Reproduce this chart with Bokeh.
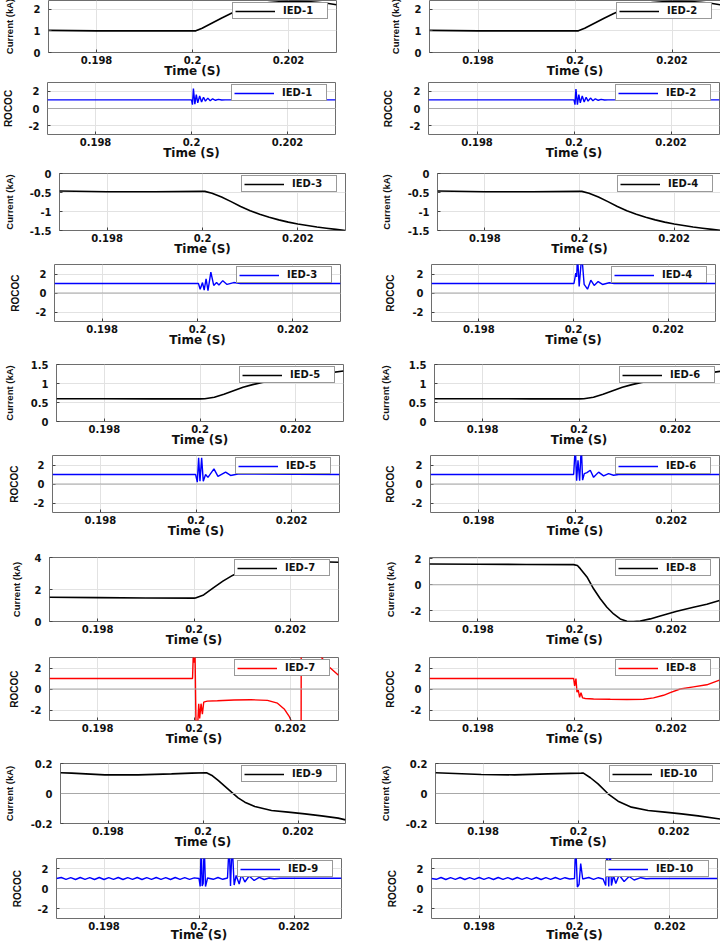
from bokeh.plotting import figure
from bokeh.layouts import column, row
from bokeh.models import Range1d, FixedTicker, Span, Legend, LegendItem
from bokeh.embed import file_html
from bokeh.resources import INLINE

# ---------------- data ----------------
x_ticks = [0.198, 0.2, 0.202]
x_tick_labels = ["0.198", "0.2", "0.202"]

# Currents (kA)
t_cur1 = [0.1970, 0.1980, 0.1990, 0.2000, 0.20007, 0.2002, 0.2004, 0.2006, 0.2008, 0.2010,
          0.2012, 0.2014, 0.2016, 0.2018, 0.2020, 0.2022, 0.2024, 0.2026, 0.2028, 0.2030]
i_cur1 = [1.02, 1.00, 1.00, 1.00, 1.00, 1.12, 1.35, 1.58, 1.80, 2.00,
          2.15, 2.25, 2.31, 2.34, 2.36, 2.36, 2.35, 2.32, 2.27, 2.20]
t_cur2 = [0.1970, 0.1980, 0.1990, 0.2000, 0.20007, 0.2002, 0.2004, 0.2006, 0.2008, 0.2010,
          0.2012, 0.2014, 0.2016, 0.2018, 0.2020, 0.2022, 0.2024, 0.2026, 0.2028, 0.2030]
i_cur2 = [1.02, 1.00, 1.00, 1.00, 1.00, 1.12, 1.35, 1.58, 1.80, 2.00,
          2.15, 2.25, 2.31, 2.34, 2.36, 2.36, 2.35, 2.32, 2.27, 2.20]
t_cur3 = [0.1970, 0.1980, 0.1990, 0.2000, 0.20005, 0.2002, 0.2004, 0.2006, 0.2008, 0.2010,
          0.2012, 0.2014, 0.2016, 0.2018, 0.2020, 0.2022, 0.2024, 0.2026, 0.2028, 0.2030]
i_cur3 = [-0.46, -0.48, -0.48, -0.47, -0.47, -0.52, -0.62, -0.74, -0.87, -0.98,
          -1.07, -1.15, -1.22, -1.28, -1.33, -1.37, -1.41, -1.44, -1.47, -1.50]
t_cur4 = [0.1970, 0.1980, 0.1990, 0.2000, 0.20005, 0.2002, 0.2004, 0.2006, 0.2008, 0.2010,
          0.2012, 0.2014, 0.2016, 0.2018, 0.2020, 0.2022, 0.2024, 0.2026, 0.2028, 0.2030]
i_cur4 = [-0.46, -0.48, -0.48, -0.47, -0.47, -0.52, -0.62, -0.74, -0.87, -0.98,
          -1.07, -1.15, -1.22, -1.28, -1.33, -1.37, -1.41, -1.44, -1.47, -1.50]
t_cur5 = [0.1970, 0.1980, 0.1990, 0.2000, 0.2001, 0.2003, 0.2005, 0.2007, 0.2009, 0.2011,
          0.2013, 0.2015, 0.2017, 0.2019, 0.2021, 0.2023, 0.2025, 0.2027, 0.2030]
i_cur5 = [0.60, 0.60, 0.595, 0.595, 0.60, 0.64, 0.72, 0.81, 0.90, 0.97,
          1.03, 1.07, 1.10, 1.14, 1.18, 1.22, 1.25, 1.28, 1.33]
t_cur6 = [0.1970, 0.1980, 0.1990, 0.2000, 0.2001, 0.2003, 0.2005, 0.2007, 0.2009, 0.2011,
          0.2013, 0.2015, 0.2017, 0.2019, 0.2021, 0.2023, 0.2025, 0.2027, 0.2030]
i_cur6 = [0.60, 0.60, 0.595, 0.595, 0.60, 0.64, 0.72, 0.81, 0.90, 0.97,
          1.03, 1.07, 1.10, 1.14, 1.18, 1.22, 1.25, 1.28, 1.33]
t_cur7 = [0.1970, 0.1980, 0.1990, 0.2000, 0.20003, 0.2002, 0.2004, 0.2006, 0.2008, 0.2010,
          0.2012, 0.2014, 0.2016, 0.2018, 0.2020, 0.2024, 0.2028, 0.2030]
i_cur7 = [1.52, 1.49, 1.47, 1.46, 1.47, 1.66, 2.10, 2.52, 2.88, 3.18,
          3.40, 3.55, 3.64, 3.70, 3.73, 3.76, 3.72, 3.70]
t_cur8 = [0.1970, 0.1980, 0.1990, 0.19998, 0.20006, 0.20012, 0.200258, 0.200395, 0.200533, 0.200671,
          0.200809, 0.200946, 0.201084, 0.201222, 0.20136, 0.201566, 0.201773, 0.202117, 0.202461,
          0.202737, 0.2030]
i_cur8 = [1.60, 1.58, 1.56, 1.55, 1.48, 1.24, 0.60, -0.31, -1.08, -1.73,
          -2.25, -2.63, -2.81, -2.84, -2.79, -2.63, -2.40, -2.04, -1.73,
          -1.50, -1.21]
t_cur9 = [0.1970, 0.197232, 0.197933, 0.198635, 0.199337, 0.199758, 0.200074, 0.2002, 0.200319,
          0.2006, 0.20074, 0.200881, 0.201091, 0.201442, 0.201793, 0.202144, 0.202495, 0.202846, 0.2030]
i_cur9 = [0.138, 0.136, 0.124, 0.124, 0.131, 0.136, 0.138, 0.118, 0.087,
          0.009, -0.029, -0.058, -0.087, -0.113, -0.124, -0.136, -0.149, -0.164, -0.176]
t_cur10 = [0.1970, 0.19796, 0.19866, 0.19936, 0.20006, 0.200095, 0.20025, 0.20041, 0.20062,
           0.20083, 0.20111, 0.20146, 0.20181, 0.20216, 0.20251, 0.2030]
i_cur10 = [0.138, 0.127, 0.124, 0.131, 0.136, 0.137, 0.105, 0.064, -0.002,
           -0.051, -0.091, -0.113, -0.124, -0.136, -0.149, -0.171]

# ROCOC
t_roc1 = [0.1970, 0.20000, 0.20002, 0.20004, 0.20007, 0.20010, 0.20013, 0.20017, 0.20021, 0.20025,
          0.20029, 0.20034, 0.20039, 0.20044, 0.20050, 0.20056, 0.20063, 0.20070, 0.2030]
v_roc1 = [1.0, 1.0, 0.45, 2.30, 0.50, 1.60, 0.65, 1.45, 0.75, 1.30,
          0.85, 1.20, 0.90, 1.12, 0.95, 1.06, 0.98, 1.0, 1.0]
t_roc2 = [0.1970, 0.20000, 0.20002, 0.20004, 0.20007, 0.20010, 0.20013, 0.20017, 0.20021, 0.20025,
          0.20029, 0.20034, 0.20039, 0.20044, 0.20050, 0.20056, 0.20063, 0.20070, 0.2030]
v_roc2 = [1.0, 1.0, 0.45, 2.25, 0.45, 1.60, 0.65, 1.45, 0.75, 1.30,
          0.85, 1.20, 0.90, 1.12, 0.95, 1.06, 0.98, 1.0, 1.0]
t_roc3 = [0.1970, 0.20002, 0.200056, 0.200105, 0.20014, 0.20018, 0.20022, 0.20028, 0.20034, 0.2004,
          0.20045, 0.20053, 0.20062, 0.20076, 0.2009, 0.2030]
v_roc3 = [1.0, 1.0, 0.40, 1.10, 0.30, 1.50, 0.25, 2.20, 0.80, 1.10,
          0.85, 1.30, 0.90, 1.10, 1.0, 1.0]
t_roc4 = [0.1970, 0.20001, 0.200049, 0.200067, 0.200085, 0.20012, 0.200175, 0.200225, 0.200296,
          0.200366, 0.200437, 0.200521, 0.200613, 0.200754, 0.20086, 0.2030]
v_roc4 = [1.0, 1.0, 2.1, 1.7, 4.0, 0.7, 4.0, 0.9, 0.4,
          1.35, 0.8, 1.2, 0.9, 1.08, 1.0, 1.0]
t_roc5 = [0.1970, 0.199992, 0.200027, 0.200055, 0.200083, 0.200118, 0.200152, 0.2002, 0.20025,
          0.200375, 0.200459, 0.200619, 0.200723, 0.200876, 0.2030]
v_roc5 = [1.0, 1.0, 0.2, 2.75, 0.3, 2.75, 0.3, 1.0, 0.7,
          1.6, 0.8, 1.25, 0.9, 1.05, 1.0]
t_roc6 = [0.1970, 0.199972, 0.200006, 0.200034, 0.200062, 0.200096, 0.200131, 0.200158, 0.200193,
          0.200248, 0.200317, 0.200386, 0.20049, 0.200594, 0.200697, 0.2008, 0.200905, 0.2030]
v_roc6 = [1.0, 1.0, 4.0, 0.35, 2.5, 0.35, 4.0, 0.4, 1.1,
          1.2, 1.45, 0.7, 1.25, 0.85, 1.1, 0.92, 1.0, 1.0]
t_roc7 = [0.1970, 0.19997, 0.199987, 0.200001, 0.200021, 0.200042, 0.20007, 0.200098, 0.200118,
          0.200146, 0.200174, 0.200202, 0.200236, 0.200278, 0.200486, 0.200832, 0.201179, 0.201525,
          0.201733, 0.201872, 0.201976, 0.202024, 0.20208, 0.202184, 0.202218, 0.202232, 0.202426,
          0.202648, 0.202807, 0.2030]
v_roc7 = [1.0, 1.0, 3.6, 2.5, 3.6, -3.5, -4.0, -1.4, -2.8,
          -1.4, -2.4, -1.25, -1.2, -1.15, -1.12, -1.05, -1.02, -1.08,
          -1.35, -1.9, -2.6, -3.1, -4.0, -15.0, -40.0, 40.0, 8.0,
          3.0, 2.1, 1.3]
t_roc8 = [0.1970, 0.199982, 0.200003, 0.20003, 0.200051, 0.200078, 0.200106, 0.200134, 0.200168,
          0.200223, 0.200395, 0.20074, 0.201084, 0.201428, 0.201635, 0.201842, 0.20198, 0.202186,
          0.202461, 0.202737, 0.2030]
v_roc8 = [1.0, 1.0, 0.3, 1.0, -0.3, -0.1, -0.8, -0.35, -0.85,
          -0.9, -0.95, -0.98, -1.0, -0.97, -0.85, -0.6, -0.35, 0.0,
          0.2, 0.4, 0.85]
t_roc9 = [0.1970, 0.1971, 0.1972, 0.1973, 0.1974, 0.1975, 0.1976, 0.1977, 0.1978, 0.1979,
          0.1980, 0.1981, 0.1982, 0.1983, 0.1984, 0.1985, 0.1986, 0.1987, 0.1988, 0.1989,
          0.1990, 0.1991, 0.1992, 0.1993, 0.1994, 0.1995, 0.1996, 0.1997, 0.1998, 0.1999,
          0.2000, 0.200025, 0.200046, 0.200067, 0.200088, 0.200109, 0.200137, 0.20018, 0.2003,
          0.2004, 0.2005, 0.2006, 0.200635, 0.200663, 0.200698, 0.20074, 0.200782, 0.200846,
          0.200895, 0.200965, 0.201056, 0.201161, 0.201267, 0.201372, 0.201477, 0.201582,
          0.2017, 0.2030]
v_roc9 = [1.0, 1.1, 0.92, 1.08, 0.9, 1.1, 0.92, 1.08, 0.9, 1.1,
          0.9, 1.08, 0.92, 1.1, 0.9, 1.08, 0.92, 1.1, 0.9, 1.08,
          0.92, 1.1, 0.92, 1.08, 0.9, 1.1, 0.92, 1.08, 0.92, 1.06,
          1.0, 0.2, 4.5, 0.25, 0.5, 4.5, 0.2, 1.05, 0.92,
          1.1, 0.92, 1.05, 4.5, 0.25, 4.5, 0.35, 1.3, 0.45,
          1.4, 0.65, 1.25, 0.8, 1.12, 0.9, 1.05, 0.97,
          1.02, 1.02]
t_roc10 = [0.1970, 0.1971, 0.1972, 0.1973, 0.1974, 0.1975, 0.1976, 0.1977, 0.1978, 0.1979,
           0.1980, 0.1981, 0.1982, 0.1983, 0.1984, 0.1985, 0.1986, 0.1987, 0.1988, 0.1989,
           0.1990, 0.1991, 0.1992, 0.1993, 0.1994, 0.1995, 0.1996, 0.1997, 0.1998, 0.1999,
           0.2000, 0.200025, 0.20006, 0.200095, 0.20013, 0.200172, 0.2003, 0.2004, 0.2005,
           0.2006, 0.200655, 0.200683, 0.200718, 0.200746, 0.200775, 0.200817, 0.200866,
           0.200936, 0.201041, 0.201146, 0.201251, 0.201391, 0.2015, 0.2016, 0.2030]
v_roc10 = [1.0, 0.92, 1.1, 0.9, 1.08, 0.92, 1.1, 0.9, 1.08, 0.92,
           1.1, 0.92, 1.08, 0.9, 1.1, 0.92, 1.08, 0.9, 1.1, 0.92,
           1.08, 0.92, 1.1, 0.9, 1.08, 0.92, 1.1, 0.92, 1.08, 0.95,
           1.0, 4.5, 0.15, 0.4, 2.5, 0.95, 1.1, 0.92, 1.08,
           0.95, 0.3, 4.5, 0.2, 4.5, 0.3, 1.3, 0.5,
           1.35, 0.7, 1.2, 0.85, 1.08, 0.97, 1.0, 1.0]

labels = ["IED-1", "IED-2", "IED-3", "IED-4", "IED-5", "IED-6", "IED-7", "IED-8", "IED-9", "IED-10"]
cur_t = [t_cur1, t_cur2, t_cur3, t_cur4, t_cur5, t_cur6, t_cur7, t_cur8, t_cur9, t_cur10]
cur_v = [i_cur1, i_cur2, i_cur3, i_cur4, i_cur5, i_cur6, i_cur7, i_cur8, i_cur9, i_cur10]
roc_t = [t_roc1, t_roc2, t_roc3, t_roc4, t_roc5, t_roc6, t_roc7, t_roc8, t_roc9, t_roc10]
roc_v = [v_roc1, v_roc2, v_roc3, v_roc4, v_roc5, v_roc6, v_roc7, v_roc8, v_roc9, v_roc10]
roc_colors = ["blue", "blue", "blue", "blue", "blue", "blue", "red", "red", "blue", "blue"]

cur_ylim = [(0, 2.4), (0, 2.4), (-1.5, 0), (-1.5, 0), (0, 1.5), (0, 1.5), (0, 4), (-2.83, 2.1), (-0.2, 0.2), (-0.2, 0.2)]
cur_yticks = [[0, 1, 2], [0, 1, 2], [-1.5, -1, -0.5, 0], [-1.5, -1, -0.5, 0], [0, 0.5, 1, 1.5], [0, 0.5, 1, 1.5],
              [0, 2, 4], [-2, 0, 2], [-0.2, 0, 0.2], [-0.2, 0, 0.2]]
cur_ytick_labels = [["0", "1", "2"], ["0", "1", "2"], ["-1.5", "-1", "-0.5", "0"], ["-1.5", "-1", "-0.5", "0"],
                    ["0", "0.5", "1", "1.5"], ["0", "0.5", "1", "1.5"], ["0", "2", "4"], ["-2", "0", "2"],
                    ["-0.2", "0", "0.2"], ["-0.2", "0", "0.2"]]
roc_ylim = (-3, 3)
roc_yticks = [-2, 0, 2]
roc_ytick_labels = ["-2", "0", "2"]

# ---------------- layout geometry ----------------
LEFT_FRAMES = [(47, 335), (54, 340), (52, 339), (49, 338), (56, 341)]
RIGHT_FRAMES = [(428, 719), (431, 715), (430, 719), (429, 719), (431, 717)]
LEFT_W = 372
FRAME_TOP = [0, 82, 173, 264, 364, 455, 557, 657, 763, 858]
FRAME_BOT = [52, 134, 230, 321, 421, 512, 621, 720, 823, 918]
BOTTOM = [30] * 9 + [25]
YL_SO_L = [16, 11, 12, 11, 13, 10, 10, 7, 13, 11]
YL_SO_R = [11, 12, 13, 13, 15, 12, 11, 11, 12, 11]

TICK_FONT = "DejaVu Sans"
YLAB_FONT = "Liberation Sans"
LEG_H = 16


def make_panel(t, v, color, width, label, ylabel, ylim, yticks, ytick_labels,
               fl, fr, x0, xend, top, fh, bottom, yl_so, zero, last):
    p = figure(frame_width=fr - fl, frame_height=fh,
               min_border_left=fl - x0, min_border_right=max(0, xend - fr),
               min_border_top=top, min_border_bottom=bottom,
               x_range=Range1d(0.197, 0.203), y_range=Range1d(*ylim),
               output_backend="svg", toolbar_location=None)
    p.outline_line_color = "#6e6e6e"
    p.outline_line_width = 1
    p.background_fill_color = "white"
    p.border_fill_color = "white"
    if zero:
        p.add_layout(Span(location=0, dimension="width", line_color="#a8a8a8", line_width=1))
    r = p.line(t, v, line_color=color, line_width=width)

    xa = p.xaxis[0]
    xa.ticker = FixedTicker(ticks=x_ticks)
    xa.major_label_overrides = dict(zip(x_ticks, x_tick_labels))
    xa.axis_label = "Time (S)"
    ya = p.yaxis[0]
    ya.ticker = FixedTicker(ticks=yticks)
    ya.major_label_overrides = dict(zip(yticks, ytick_labels))
    ya.axis_label = ylabel
    for ax in (xa, ya):
        ax.axis_line_color = None
        ax.major_tick_in = 3
        ax.major_tick_out = 0
        ax.minor_tick_in = 0
        ax.minor_tick_out = 0
        ax.major_tick_line_color = "#444444"
        ax.major_label_text_font = TICK_FONT
        ax.major_label_text_font_style = "bold"
        ax.major_label_text_font_size = "10px"
        ax.major_label_text_color = "#111111"
    xa.major_label_standoff = 3
    xa.axis_label_text_font = TICK_FONT
    xa.axis_label_text_font_style = "bold"
    xa.axis_label_text_font_size = "12px"
    xa.axis_label_standoff = -5 if last else -3
    xa.axis_label_text_color = "#111111"
    ya.major_label_standoff = 8
    ya.axis_label_text_font = YLAB_FONT
    ya.axis_label_text_font_style = "bold"
    ya.axis_label_text_font_size = "9.5px" if ylabel.startswith("Current") else "10px"
    ya.axis_label_standoff = yl_so
    ya.axis_label_text_color = "#111111"
    p.grid.grid_line_color = "#e2e2e2"
    p.grid.grid_line_width = 1

    lab_w = 50 if len(label) > 5 else 42
    legend = Legend(items=[LegendItem(label=label, renderers=[r])])
    lw = 2 * 2 + 40 + 8 + lab_w
    legend.location = (fr - fl - 10 - lw, fh - 3 - LEG_H)
    legend.padding = 2
    legend.margin = 0
    legend.spacing = 0
    legend.glyph_width = 40
    legend.glyph_height = 8
    legend.label_standoff = 8
    legend.label_width = lab_w
    legend.label_height = 8
    legend.label_text_font = TICK_FONT
    legend.label_text_font_style = "bold"
    legend.label_text_font_size = "10px"
    legend.label_text_color = "#111111"
    legend.border_line_color = "#333333"
    legend.border_line_width = 1
    legend.background_fill_color = "white"
    legend.background_fill_alpha = 1.0
    p.add_layout(legend)
    return p


rows = []
for r in range(10):
    pair = r // 2
    is_roc = r % 2 == 1
    top = FRAME_TOP[r] if r == 0 else max(0, FRAME_TOP[r] - (FRAME_BOT[r - 1] + BOTTOM[r - 1]))
    fh = FRAME_BOT[r] - FRAME_TOP[r]
    figs = []
    for side in range(2):
        idx = 2 * pair + side
        if side == 0:
            fl, fr = LEFT_FRAMES[pair]
            x0, xend = 0, LEFT_W
            so = YL_SO_L[r]
        else:
            fl, fr = RIGHT_FRAMES[pair]
            x0, xend = LEFT_W, 720
            so = YL_SO_R[r]
        if is_roc:
            p = make_panel(roc_t[idx], roc_v[idx], roc_colors[idx], 1.4, labels[idx], "ROCOC",
                           roc_ylim, roc_yticks, roc_ytick_labels,
                           fl, fr, x0, xend, top, fh, BOTTOM[r], so, True, r == 9)
        else:
            zero = cur_ylim[idx][0] < 0 < cur_ylim[idx][1]
            p = make_panel(cur_t[idx], cur_v[idx], "black", 1.6, labels[idx], "Current (kA)",
                           cur_ylim[idx], cur_yticks[idx], cur_ytick_labels[idx],
                           fl, fr, x0, xend, top, fh, BOTTOM[r], so, zero, False)
        figs.append(p)
    rows.append(row(*figs, spacing=0))

layout = column(*rows, spacing=0)
open("out.html", "w").write(file_html(layout, INLINE))
